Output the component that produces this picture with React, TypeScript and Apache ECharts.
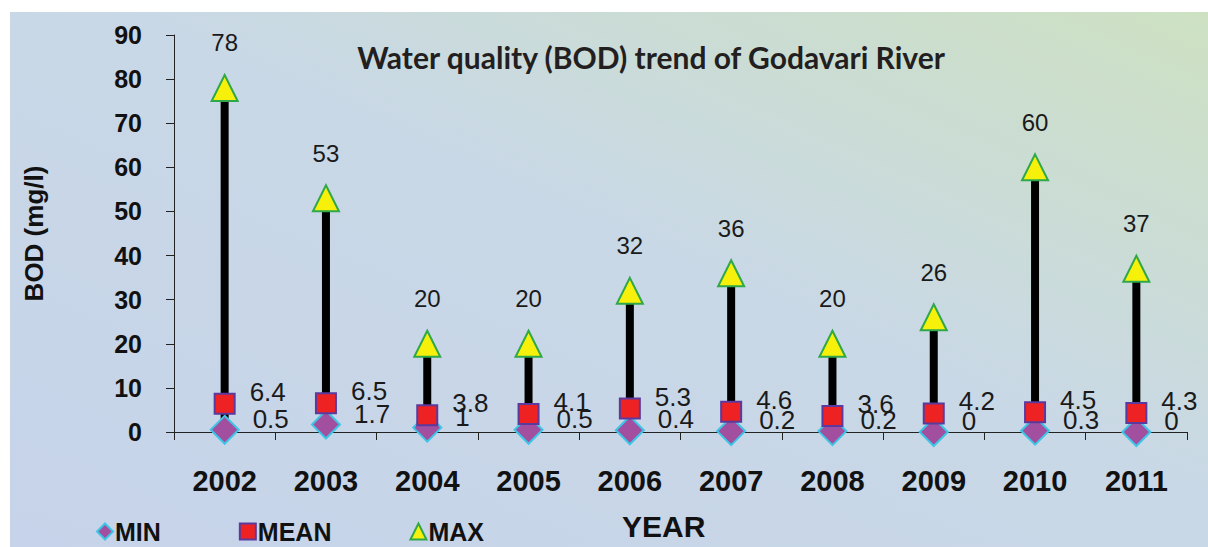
import React, { useEffect, useRef } from "react";
import * as echarts from "echarts";

const years = ["2002", "2003", "2004", "2005", "2006", "2007", "2008", "2009", "2010", "2011"];
const minValues = [0.5, 1.7, 1, 0.5, 0.4, 0.2, 0.2, 0, 0.3, 0];
const meanValues = [6.4, 6.5, 3.8, 4.1, 5.3, 4.6, 3.6, 4.2, 4.5, 4.3];
const maxValues = [78, 53, 20, 20, 32, 36, 20, 26, 60, 37];
const yTicks = { min: 0, max: 90, interval: 10 };

const AX_FONT = "'Liberation Sans', Arial, sans-serif";

export default function App() {
  const ref = useRef<HTMLDivElement>(null);
  useEffect(() => {
    if (!ref.current) return;
    const chart = echarts.init(ref.current, null, { renderer: "svg" });
    const rangeData = years.map((_, i) => [i, minValues[i], maxValues[i]]);
    chart.setOption({
      animation: false,
      backgroundColor: "#ffffff",
      graphic: [
        {
          type: "rect",
          z: -10,
          silent: true,
          shape: { x: 10, y: 12, width: 1198, height: 535 },
          style: {
            fill: new echarts.graphic.LinearGradient(0, 1, 1, 0, [
              { offset: 0, color: "#c6d3ea" },
              { offset: 0.55, color: "#c9d8e6" },
              { offset: 1, color: "#cde1c2" },
            ]),
          },
        },
        {
          type: "text",
          left: 622,
          top: 511,
          style: { text: "YEAR", font: `bold 30px ${AX_FONT}`, fill: "#111" },
        },
      ],
      title: {
        text: "Water quality (BOD) trend of Godavari River",
        left: 646,
        top: 37,
        textAlign: "center",
        textStyle: { fontFamily: "Lato, 'Open Sans', sans-serif", fontWeight: "bold", fontSize: 30, color: "#231f20" },
      },
      legend: {
        data: ["MIN", "MEAN", "MAX"],
        left: 91,
        top: 514,
        itemWidth: 16,
        itemHeight: 16,
        itemGap: 78,
        textStyle: { fontFamily: AX_FONT, fontWeight: "bold", fontSize: 25, color: "#111", padding: [0, 0, 0, -3] },
      },
      grid: { left: 174, right: 21, top: 35, bottom: 115 },
      xAxis: {
        type: "category",
        data: years,
        boundaryGap: true,
        axisLine: { lineStyle: { color: "#222", width: 1 } },
        axisTick: { show: true, length: 8, lineStyle: { color: "#222" } },
        axisLabel: { fontFamily: AX_FONT, fontWeight: "bold", fontSize: 29, color: "#111", margin: 34 },
      },
      yAxis: {
        type: "value",
        min: yTicks.min,
        max: yTicks.max,
        interval: yTicks.interval,
        name: "BOD (mg/l)",
        nameLocation: "middle",
        nameGap: 127,
        nameTextStyle: { fontFamily: AX_FONT, fontWeight: "bold", fontSize: 26, color: "#111" },
        axisLine: { show: true, lineStyle: { color: "#222", width: 1 } },
        axisTick: { show: true, length: 8, lineStyle: { color: "#222" } },
        splitLine: { show: false },
        axisLabel: { fontFamily: AX_FONT, fontWeight: "bold", fontSize: 25, color: "#111", margin: 32 },
      },
      series: [
        {
          type: "custom",
          name: "range",
          z: 1,
          renderItem: (params: any, api: any) => {
            const x = api.value(0);
            const lo = api.coord([x, api.value(1)]);
            const hi = api.coord([x, api.value(2)]);
            return {
              type: "line",
              shape: { x1: lo[0], y1: lo[1], x2: hi[0], y2: hi[1] },
              style: { stroke: "#000", lineWidth: 8 },
            };
          },
          encode: { x: 0, y: [1, 2] },
          data: rangeData,
        },
        {
          type: "scatter",
          name: "MIN",
          z: 3,
          symbol: "diamond",
          symbolSize: [28, 28],
          itemStyle: { color: "#a24f9f", borderColor: "#3cc6e6", borderWidth: 2, opacity: 1 },
          label: {
            show: true,
            position: "right",
            distance: 13,
            offset: [0, -11],
            fontFamily: AX_FONT,
            fontSize: 26,
            color: "#1a1a1a",
          },
          data: minValues,
        },
        {
          type: "scatter",
          name: "MEAN",
          z: 4,
          symbol: "rect",
          symbolSize: [20, 20],
          itemStyle: { color: "#ee2222", borderColor: "#5a3a9e", borderWidth: 2, opacity: 1 },
          label: {
            show: true,
            position: "right",
            distance: 14,
            offset: [0, -12],
            fontFamily: AX_FONT,
            fontSize: 26,
            color: "#1a1a1a",
          },
          data: meanValues,
        },
        {
          type: "scatter",
          name: "MAX",
          z: 5,
          symbol: "triangle",
          symbolSize: [26, 26],
          itemStyle: { color: "#f7f00a", borderColor: "#2ea84a", borderWidth: 2, opacity: 1 },
          label: {
            show: true,
            position: "top",
            distance: 19,
            fontFamily: AX_FONT,
            fontSize: 24,
            color: "#1a1a1a",
          },
          data: maxValues,
        },
      ],
    });
    return () => chart.dispose();
  }, []);
  return (
    <div
      ref={ref}
      style={{ position: "absolute", left: 0, top: 0, width: 1208, height: 547 }}
    />
  );
}
